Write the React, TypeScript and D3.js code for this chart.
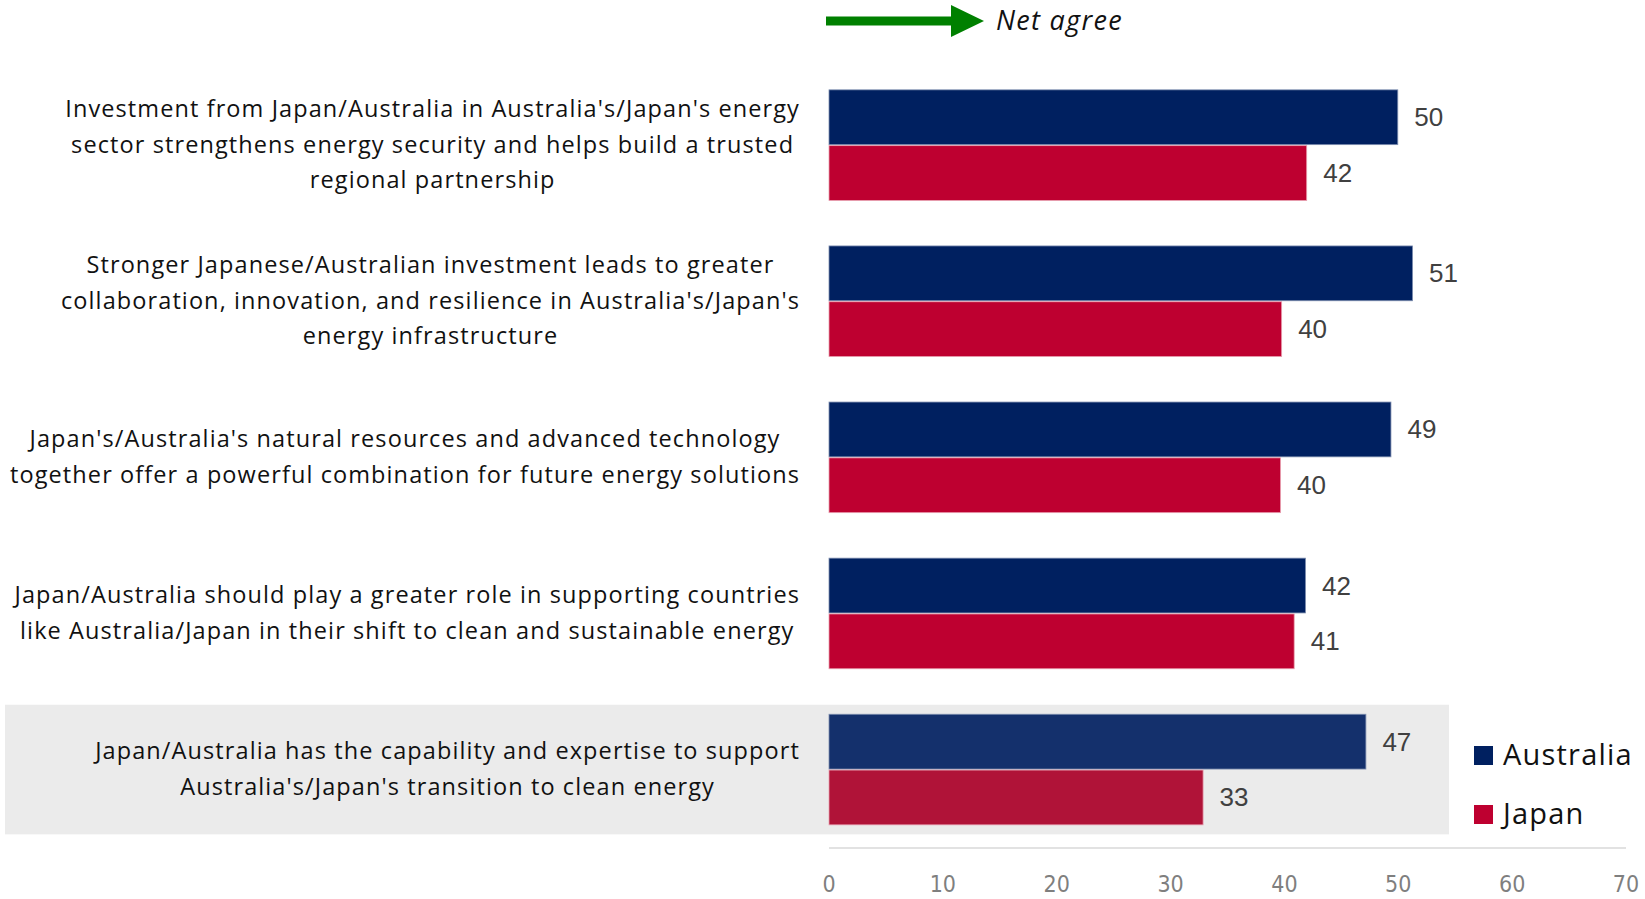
import React, { useEffect, useRef } from "react";
import * as d3 from "d3";

const categoryLines: string[][] = [
  [
    "Investment from Japan/Australia in Australia's/Japan's energy",
    "sector strengthens energy security and helps build a trusted",
    "regional partnership",
  ],
  [
    "Stronger Japanese/Australian investment leads to greater",
    "collaboration, innovation, and resilience in Australia's/Japan's",
    "energy infrastructure",
  ],
  [
    "Japan's/Australia's natural resources and advanced technology",
    "together offer a powerful combination for future energy solutions",
  ],
  [
    "Japan/Australia should play a greater role in supporting countries",
    "like Australia/Japan in their shift to clean and sustainable energy",
  ],
  [
    "Japan/Australia has the capability and expertise to support",
    "Australia's/Japan's transition to clean energy",
  ],
];
const seriesNames = ["Australia", "Japan"];
const australiaValues = [50.0, 51.3, 49.4, 41.9, 47.2];
const japanValues = [42.0, 39.8, 39.7, 40.9, 32.9];
const tickValues = [0, 10, 20, 30, 40, 50, 60, 70];
const highlightedIndex = 4;

const W = 1645;
const H = 899;
const LABEL_FONT = "'Open Sans', 'Noto Sans', sans-serif";

export default function App() {
  const ref = useRef<SVGSVGElement | null>(null);

  useEffect(() => {
    const svg = d3.select(ref.current);
    svg.selectAll("*").remove();

    const x = d3.scaleLinear().domain([0, 70]).range([829, 1626]);
    const ids = categoryLines.map((_, i) => String(i));
    const y = d3
      .scaleBand<string>()
      .domain(ids)
      .range([67.1, 847.6])
      .paddingInner(0.285)
      .paddingOuter(0.1425);
    const sub = d3
      .scaleBand<string>()
      .domain(seriesNames)
      .range([0, y.bandwidth()]);

    const colors: Record<string, string> = { Australia: "#002060", Japan: "#BE0030" };
    const colorsHi: Record<string, string> = { Australia: "#14306C", Japan: "#B01338" };
    const strokes: Record<string, string> = { Australia: "#7F8FB0", Japan: "#E8A0B0" };
    const fmt = d3.format(".0f");

    // highlight background
    const hy = y(String(highlightedIndex))!;
    svg
      .append("rect")
      .attr("x", 5)
      .attr("y", hy - 9)
      .attr("width", 1444)
      .attr("height", y.bandwidth() + 18)
      .attr("fill", "#EBEBEB");

    // arrow
    const arrow = svg.append("g");
    arrow
      .append("rect")
      .attr("x", 826)
      .attr("y", 16.5)
      .attr("width", 127)
      .attr("height", 9)
      .attr("fill", "#008000");
    arrow
      .append("path")
      .attr("d", "M951,5 L984,21 L951,37 Z")
      .attr("fill", "#008000");
    svg
      .append("text")
      .attr("x", 996)
      .attr("y", 19)
      .attr("dominant-baseline", "central")
      .attr("font-family", LABEL_FONT)
      .attr("font-style", "italic")
      .attr("font-size", 27)
      .attr("letter-spacing", 1.3)
      .attr("fill", "#111")
      .text("Net agree");

    // bars
    const seriesData = [australiaValues, japanValues];
    categoryLines.forEach((_, i) => {
      seriesNames.forEach((s, si) => {
        const v = seriesData[si][i];
        const by = y(String(i))! + sub(s)!;
        const hi = i === highlightedIndex;
        svg
          .append("rect")
          .attr("x", x(0))
          .attr("y", by + 0.5)
          .attr("width", x(v) - x(0) - 0.5)
          .attr("height", sub.bandwidth() - 1)
          .attr("fill", hi ? colorsHi[s] : colors[s])
          .attr("stroke", strokes[s])
          .attr("stroke-width", 0.8);
        svg
          .append("text")
          .attr("x", x(v) + 16)
          .attr("y", by + sub.bandwidth() / 2)
          .attr("dominant-baseline", "central")
          .attr("font-family", "'Liberation Sans', Arial, sans-serif")
          .attr("font-size", 26)
          .attr("fill", "#404040")
          .text(fmt(v));
      });
    });

    // category labels
    const lineH = 35.7;
    const maxAllowed = 790;
    categoryLines.forEach((lines, i) => {
      const cy = y(String(i))! + y.bandwidth() / 2 - 1.5;
      const g = svg.append("g");
      const texts = lines.map((ln, li) =>
        g
          .append("text")
          .attr("y", cy + (li - (lines.length - 1) / 2) * lineH)
          .attr("dominant-baseline", "central")
          .attr("text-anchor", "middle")
          .attr("font-family", LABEL_FONT)
          .attr("font-size", 23.5)
          .attr("letter-spacing", 1.1)
          .attr("fill", "#111")
          .text(ln)
      );
      texts.forEach((t) => {
        const w = (t.node() as SVGTextElement).getComputedTextLength();
        if (w > maxAllowed) {
          t.attr("textLength", maxAllowed).attr("lengthAdjust", "spacingAndGlyphs");
        }
      });
      const maxW = Math.min(
        maxAllowed,
        d3.max(texts, (t) => (t.node() as SVGTextElement).getComputedTextLength()) || 0
      );
      const cx = 800 - maxW / 2;
      texts.forEach((t) => t.attr("x", cx));
    });

    // axis
    svg
      .append("line")
      .attr("x1", x(0))
      .attr("x2", x(70))
      .attr("y1", 848)
      .attr("y2", 848)
      .attr("stroke", "#D9D9D9")
      .attr("stroke-width", 1.5);
    svg
      .selectAll("text.tick")
      .data(tickValues)
      .enter()
      .append("text")
      .attr("class", "tick")
      .attr("x", (d) => x(d))
      .attr("y", 884)
      .attr("text-anchor", "middle")
      .attr("dominant-baseline", "central")
      .attr("font-family", "'Liberation Sans Narrow', 'DejaVu Sans Condensed', sans-serif")
      .attr("font-size", 23)
      .attr("fill", "#7F7F7F")
      .text((d) => String(d));

    // legend
    seriesNames.forEach((s, si) => {
      const ly = 746 + si * 59;
      svg
        .append("rect")
        .attr("x", 1474)
        .attr("y", ly)
        .attr("width", 19)
        .attr("height", 19)
        .attr("fill", colors[s]);
      svg
        .append("text")
        .attr("x", 1503)
        .attr("y", ly + 7.5)
        .attr("dominant-baseline", "central")
        .attr("font-family", LABEL_FONT)
        .attr("font-size", 29)
        .attr("letter-spacing", 1.2)
        .attr("fill", "#111")
        .text(s);
    });
  }, []);

  return (
    <svg
      ref={ref}
      width={W}
      height={H}
      style={{ position: "absolute", left: 0, top: 0, background: "#fff" }}
    />
  );
}
